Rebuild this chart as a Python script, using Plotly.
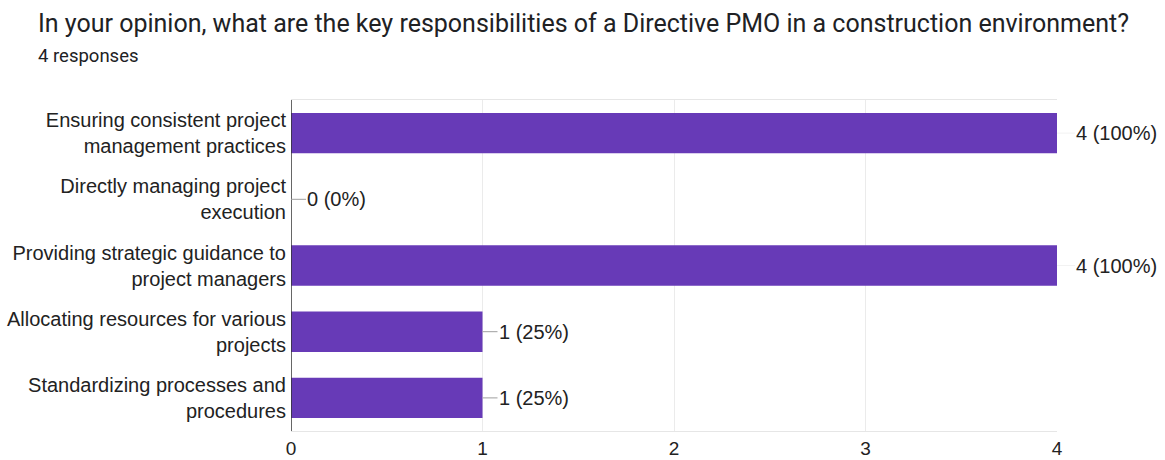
import plotly.graph_objects as go

# Survey question and response data
title_text = "In your opinion, what are the key responsibilities of a Directive PMO in a construction environment?"
subtitle_text = "4 responses"
total_responses = 4

categories = [
    "Ensuring consistent project<br>management practices",
    "Directly managing project<br>execution",
    "Providing strategic guidance to<br>project managers",
    "Allocating resources for various<br>projects",
    "Standardizing processes and<br>procedures",
]
counts = [4, 0, 4, 1, 1]
x_ticks = [0, 1, 2, 3, 4]

bar_color = "#673ab7"
text_color = "#222222"
label_font = dict(family="Liberation Sans, Arial, sans-serif", size=20, color=text_color)
tick_font = dict(family="Liberation Sans, Arial, sans-serif", size=19, color=text_color)

# Plot area in pixels (used to place header text in paper coordinates)
W, H = 1165, 460
L, R, T, B = 291, 108, 100, 29
plot_w = W - L - R
plot_h = H - T - B


def px_to_paper_x(px):
    return (px - L) / plot_w


def px_to_paper_y(py):
    return (H - B - py) / plot_h


fig = go.Figure(
    go.Bar(
        x=counts,
        y=categories,
        orientation="h",
        marker=dict(color=bar_color, line=dict(width=0)),
        hoverinfo="skip",
    )
)

annotations = []
# Value labels with short leader lines from the bar end
for cat, val in zip(categories, counts):
    pct = round(100 * val / total_responses)
    at_max = val >= max(x_ticks)
    annotations.append(dict(
        x=val,
        y=cat,
        xref="x",
        yref="y",
        text=f"{val} ({pct}%)",
        showarrow=True,
        arrowhead=0,
        arrowwidth=1,
        arrowcolor="#f2f2f2" if at_max else "#9e9e9e",
        ax=18 if at_max else 15,
        ay=0,
        xanchor="left",
        font=label_font,
        borderpad=0,
        standoff=0,
    ))

annotations.append(dict(
    text=title_text, xref="paper", yref="paper",
    x=px_to_paper_x(36), y=px_to_paper_y(23),
    xanchor="left", yanchor="middle", showarrow=False,
    font=dict(family="Roboto, sans-serif", size=25, color="#202124"),
))
annotations.append(dict(
    text=subtitle_text, xref="paper", yref="paper",
    x=px_to_paper_x(36), y=px_to_paper_y(56),
    xanchor="left", yanchor="middle", showarrow=False,
    font=dict(family="Roboto, sans-serif", size=18.5, color="#202124"),
))

fig.update_layout(
    width=W,
    height=H,
    margin=dict(l=L, r=R, t=T, b=B, autoexpand=False),
    paper_bgcolor="white",
    plot_bgcolor="white",
    bargap=0.39,
    showlegend=False,
    annotations=annotations,
    xaxis=dict(
        range=[0, 4],
        tickvals=x_ticks,
        ticktext=[str(t) for t in x_ticks],
        showgrid=True,
        gridcolor="#ebebeb",
        gridwidth=1,
        zeroline=False,
        showline=True,
        linecolor="#e6e6e6",
        mirror=True,
        ticks="",
        tickfont=tick_font,
        fixedrange=True,
    ),
    yaxis=dict(
        autorange="reversed",
        showgrid=False,
        zeroline=False,
        showline=False,
        ticks="",
        ticklabelstandoff=4,
        tickfont=label_font,
        fixedrange=True,
    ),
)

# Dark vertical baseline at zero
fig.add_shape(
    type="line", xref="x", yref="paper",
    x0=0, x1=0, y0=0, y1=1,
    line=dict(color="#333333", width=1.5),
    layer="above",
)

fig.write_html("out.html")
